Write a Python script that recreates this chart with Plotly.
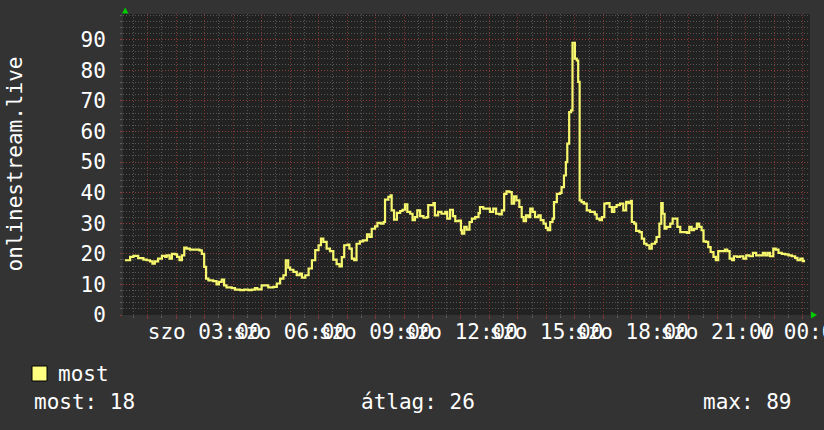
import plotly.graph_objects as go

# ---- data ----
times = [
    "00:12","00:23","00:30","00:40","00:51","00:58","01:05","01:10","01:15","01:22",
    "01:30","01:37","01:40","01:46","01:51","01:58","02:02","02:07","02:12","02:17",
    "02:22","02:29","02:40","02:49","02:54","02:59","03:03","03:08","03:18","03:25",
    "03:30","03:36","03:41","03:46","03:57","04:04","04:15","04:23","04:32","04:39",
    "04:46","04:51","05:00","05:07","05:14","05:25","05:32","05:39","05:46","05:51",
    "05:56","06:00","06:07","06:14","06:20","06:25","06:32","06:39","06:46","06:53",
    "07:00","07:05","07:10","07:17","07:24","07:31","07:38","07:44","07:49","07:54",
    "08:01","08:05","08:10","08:15","08:20","08:27","08:34","08:42","08:47","08:52",
    "08:59","09:04","09:11","09:17","09:20","09:27","09:32","09:34","09:39","09:45",
    "09:52","09:57","10:02","10:07","10:13","10:18","10:23","10:28","10:34","10:41",
    "10:48","10:51","10:58","11:02","11:05","11:12","11:19","11:27","11:31","11:37",
    "11:43","11:48","11:55","12:00","12:02","12:07","12:12","12:18","12:23","12:30",
    "12:37","12:40","12:47","12:54","13:01","13:08","13:14","13:21","13:26","13:31",
    "13:36","13:42","13:47","13:52","13:57","14:03","14:08","14:12","14:17","14:22",
    "14:26","14:31","14:36","14:43","14:48","14:54","14:59","15:03","15:08","15:13",
    "15:16","15:22","15:29","15:32","15:37","15:41","15:44","15:48","15:52","15:55",
    "16:00","16:04","16:07","16:10","16:14","16:19","16:25","16:32","16:39","16:42",
    "16:46","16:52","16:57","17:02","17:07","17:13","17:18","17:23","17:28","17:35",
    "17:42","17:48","17:53","17:58","18:00","18:05","18:09","18:16","18:21","18:26",
    "18:31","18:37","18:42","18:49","18:52","18:58","19:02","19:05","19:09","19:13",
    "19:21","19:26","19:31","19:36","19:42","19:49","19:56","20:01","20:06","20:11",
    "20:17","20:22","20:27","20:31","20:36","20:41","20:46","20:52","20:57","21:02",
    "21:09","21:16","21:21","21:26","21:31","21:35","21:42","21:48","21:55","22:01",
    "22:08","22:15","22:22","22:29","22:36","22:41","22:46","22:51","22:58","23:03",
    "23:09","23:16","23:23","23:30","23:37","23:44","23:49","23:55","24:00","24:05",
]
most = [
    17.9,19.0,19.3,18.6,18.1,17.9,17.5,16.8,17.5,18.4,
    19.3,19.0,19.5,18.4,20.0,19.8,19.0,17.9,19.5,22.0,
    21.7,21.4,21.4,21.1,20.0,15.7,11.9,11.3,11.1,10.0,
    10.8,11.6,9.7,9.0,8.8,8.3,8.1,8.3,8.1,8.3,
    8.8,8.4,9.7,9.7,9.0,9.2,10.3,11.9,13.0,17.9,
    15.5,14.8,14.1,13.0,13.5,12.2,13.0,15.2,17.9,21.2,
    22.8,25.0,23.9,21.7,20.9,18.1,16.6,15.9,18.9,22.8,
    23.0,21.7,18.4,17.9,23.3,24.1,24.4,26.4,25.5,28.2,
    29.0,30.1,29.9,30.4,37.7,38.6,39.1,34.2,31.2,33.4,
    34.0,34.4,36.2,33.7,33.1,31.0,32.0,34.2,32.3,31.8,
    32.0,35.9,35.9,36.6,32.6,33.7,33.1,33.7,31.5,34.4,
    32.3,30.7,30.9,27.7,26.6,28.8,27.9,30.4,31.5,32.0,
    33.3,35.3,34.8,34.8,33.7,34.8,33.1,32.9,34.2,39.6,
    40.4,40.2,36.4,38.8,37.5,35.3,32.0,30.7,32.6,32.0,
    34.8,33.7,32.0,32.6,31.0,29.9,28.5,27.7,30.4,31.5,
    36.9,39.6,39.9,41.8,45.6,50.0,56.0,66.3,66.9,89.0,
    83.8,83.2,76.2,37.5,36.9,36.4,34.2,33.7,33.7,32.9,
    31.5,31.0,32.0,36.4,36.6,35.3,33.7,35.3,35.9,36.4,
    34.2,37.0,36.6,37.3,30.4,29.9,27.5,27.1,25.0,23.3,
    22.8,21.7,23.3,23.9,25.5,29.9,36.6,33.1,28.2,28.8,
    29.9,31.5,31.5,28.8,27.1,27.1,26.8,28.8,27.7,28.2,
    29.9,28.8,27.7,24.1,23.9,22.2,20.6,19.0,17.9,20.9,
    20.9,21.4,20.9,18.4,17.9,19.2,19.0,19.2,18.4,19.5,
    19.2,20.3,19.5,19.5,20.3,19.5,20.3,19.2,21.7,21.4,
    20.3,20.0,19.8,19.5,19.2,18.7,17.9,18.4,17.6,17.6,
]
tick_hours = [3, 6, 9, 12, 15, 18, 21, 24]
tick_labels = ["szo 03:00", "szo 06:00", "szo 09:00", "szo 12:00",
               "szo 15:00", "szo 18:00", "szo 21:00", "v 00:00"]
y_ticks = [0, 10, 20, 30, 40, 50, 60, 70, 80, 90]
series_name = "most"
y_title = "onlinestream.live"
stat_labels = ["most: 18", "átlag: 26", "max: 89"]

# ---- helpers ----
def to_hours(s):
    h, m = s.split(":")
    return int(h) + int(m) / 60.0

x_hours = [to_hours(t) for t in times]

W, H = 824, 430
ML, MR, MT, MB = 123, 14, 14, 115
PW, PH = W - ML - MR, H - MT - MB

def px(x):
    return (x - ML) / PW

def py(y):
    return (H - MB - y) / PH

FONT = "DejaVu Sans Mono"
LINE_COLOR = "#F7F76E"
GRID_MINOR = "rgba(150,150,150,0.45)"
GRID_MAJOR = "rgba(150,55,55,0.85)"

major_x = list(range(1, 25))
major_text = [tick_labels[tick_hours.index(h)] if h in tick_hours else "" for h in major_x]
minor_x = [h + 0.5 for h in range(0, 25)]

fig = go.Figure()
fig.add_trace(go.Scatter(
    x=x_hours, y=most, mode="lines", name=series_name,
    line=dict(color=LINE_COLOR, width=2.2, shape="hv"),
    showlegend=False, hoverinfo="skip",
))

fig.update_layout(
    width=W, height=H, autosize=False,
    margin=dict(l=ML, r=MR, t=MT, b=MB, pad=0, autoexpand=False),
    paper_bgcolor="#333333", plot_bgcolor="#222222",
    font=dict(family=FONT, size=21, color="#FFFFFF"),
    showlegend=False,
)
fig.update_xaxes(
    range=[0.133, 24.256], tickmode="array", tickvals=major_x, ticktext=major_text,
    showgrid=True, gridcolor=GRID_MAJOR, griddash="1px,2px", gridwidth=1,
    ticks="outside", ticklen=3, tickcolor=GRID_MAJOR, tickwidth=1,
    minor=dict(tickmode="array", tickvals=minor_x, showgrid=True, gridcolor=GRID_MINOR,
               griddash="1px,2px", gridwidth=1, ticks="outside", ticklen=2, tickcolor=GRID_MINOR),
    tickangle=0, ticklabeloverflow="allow", zeroline=False, showline=False,
    tickfont=dict(family=FONT, size=21, color="#FFFFFF"), ticklabelstandoff=-5,
    automargin=False, fixedrange=True,
)
fig.update_yaxes(
    range=[0, 98.4], tickmode="array", tickvals=y_ticks,
    showgrid=True, gridcolor=GRID_MAJOR, griddash="1px,2px", gridwidth=1,
    ticks="outside", ticklen=2, tickcolor=GRID_MAJOR,
    minor=dict(dtick=2, tick0=0, showgrid=True, gridcolor=GRID_MINOR,
               griddash="1px,2px", gridwidth=1, ticks="outside", ticklen=2, tickcolor=GRID_MINOR),
    zeroline=False, showline=False, ticklabelstandoff=10,
    tickfont=dict(family=FONT, size=21, color="#FFFFFF"),
    automargin=False, fixedrange=True,
)

# y-axis title (rotated)
fig.add_annotation(text=y_title, textangle=-90, xref="paper", yref="paper",
                   x=px(14), y=0.5, xanchor="center", yanchor="middle",
                   showarrow=False, font=dict(family=FONT, size=21, color="#FFFFFF"))

# green arrows
fig.add_shape(type="path", xref="paper", yref="paper",
              path=f"M {px(122)} {py(13.5)} L {px(128.5)} {py(13.5)} L {px(125.2)} {py(7.5)} Z",
              fillcolor="#00CC00", line=dict(width=0))
fig.add_shape(type="path", xref="paper", yref="paper",
              path=f"M {px(811)} {py(311.5)} L {px(811)} {py(318.5)} L {px(817)} {py(315)} Z",
              fillcolor="#00CC00", line=dict(width=0))

# legend swatch + label
fig.add_shape(type="rect", xref="paper", yref="paper",
              x0=px(32), x1=px(47), y0=py(381), y1=py(366),
              fillcolor="#FFFF80", line=dict(color="#000000", width=1))
fig.add_annotation(text=series_name, xref="paper", yref="paper", x=px(56), y=py(374),
                   xanchor="left", yanchor="middle", showarrow=False,
                   font=dict(family=FONT, size=21, color="#FFFFFF"))

# statistics line
stat_x = [32, 359, 701]
for t, sx in zip(stat_labels, stat_x):
    fig.add_annotation(text=t, xref="paper", yref="paper", x=px(sx), y=py(402),
                       xanchor="left", yanchor="middle", showarrow=False,
                       font=dict(family=FONT, size=21, color="#FFFFFF"))

fig.write_html("out.html", config={"displayModeBar": False},
               post_script="document.body.style.margin='0px';")
